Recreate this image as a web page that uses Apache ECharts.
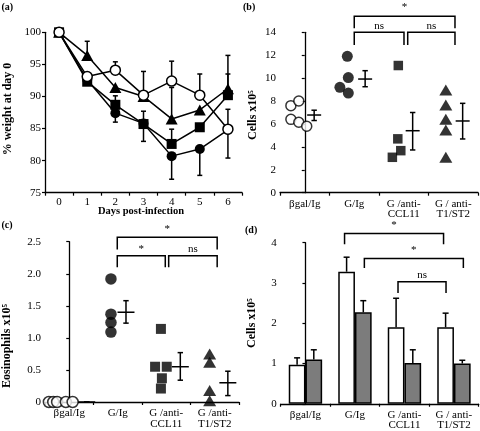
<!DOCTYPE html>
<html><head><meta charset="utf-8">
<script src="https://cdn.jsdelivr.net/npm/echarts@6/dist/echarts.min.js"></script>
<style>html,body{margin:0;padding:0;background:#fff}#c{width:480px;height:431px}</style>
</head><body><div id="c"></div>
<script>
// ---------- Panel (a): % weight at day 0 ----------
const aDays = ['0','1','2','3','4','5','6'];
const aYTicks = [75, 100, 5];
const aOpen   = [100, 93.1, 94.1, 90.2, 92.4, 90.2, 84.9];
const aTri    = [100, 96.4, 91.4, 90.0, 86.5, 87.9, 91.2];
const aSq     = [100, 92.3, 88.7, 85.7, 82.6, 85.2, 90.2];
const aFilled = [100, 92.6, 87.4, 85.8, 80.7, 81.8, 84.8];
// error bars [day, from, to]
const aOpenErr   = [[2, 94.1, 95.4], [4, 92.4, 95.5], [5, 90.2, 93.5], [6, 84.9, 88.0]];
const aTriErr    = [[1, 96.4, 98.6], [3, 90.0, 93.9], [4, 86.5, 91.4], [6, 91.2, 96.4]];
const aSqErr     = [[2, 88.7, 90.1], [3, 85.7, 87.7], [4, 82.6, 84.9], [6, 90.2, 93.5]];
const aFilledErr = [[2, 87.4, 86.0], [3, 85.8, 83.0], [4, 80.7, 77.1], [5, 81.8, 77.7], [6, 84.8, 80.4]];

// ---------- Panel (b): Cells x10^5 ----------
const groups  = ['βgal/Ig', 'G/Ig', 'G /anti-\nCCL11', 'G / anti-\nT1/ST2'];
const groupsC = ['βgal/Ig', 'G/Ig', 'G /anti-\nCCL11', 'G /anti-\nT1/ST2'];
const bBgal = [7.6, 8.0, 6.4, 6.15, 5.8];
const bBgalJit = [-0.28, -0.12, -0.28, -0.12, 0.04];
const bGIg = [11.9, 10.05, 9.2, 8.7];
const bGIgJit = [-0.14, -0.12, -0.29, -0.12];
const bCCL = [11.1, 4.7, 3.67, 3.09];
const bCCLJit = [-0.11, -0.12, -0.06, -0.23];
const bT1 = [8.96, 7.65, 6.4, 5.47, 3.09];
const bT1Jit = [-0.15, -0.15, -0.15, -0.15, -0.15];
const bMean = [6.78, 9.92, 5.41, 6.26];
const bLo   = [6.3, 9.25, 3.73, 4.69];
const bHi   = [7.2, 10.65, 7.0, 7.8];
const bMeanPos = [0.19, 0.22, 0.18, 0.19];
// brackets [x1, x2, top, legEnd, textY]
const bBrackets = [[1.0, 3.035, 15.4, 14.35, 16.2], [1.0, 2.005, 14.0, 12.9, 14.55], [2.08, 3.035, 14.0, 12.9, 14.55]];
const bBracketText = ['*', 'ns', 'ns'];

// ---------- Panel (c): Eosinophils x10^5 ----------
const cBgal = [0, 0, 0, 0, 0];
const cBgalJit = [-0.42, -0.33, -0.25, -0.07, 0.07];
const cGIg = [1.92, 1.37, 1.24, 1.09];
const cGIgJit = [-0.14, -0.14, -0.14, -0.14];
const cCCL = [1.14, 0.55, 0.55, 0.37, 0.21];
const cCCLJit = [-0.11, -0.23, 0.01, -0.09, -0.11];
const cT1 = [0.75, 0.62, 0.18, 0.02];
const cT1Jit = [-0.105, -0.105, -0.105, -0.105];
const cMean = [0, 1.40, 0.55, 0.30];
const cLo   = [0, 1.23, 0.34, 0.10];
const cHi   = [0, 1.58, 0.77, 0.48];
const cMeanPos = [0.36, 0.17, 0.29, 0.27];
const cBrackets = [[0.99, 3.05, 2.57, 2.38, 2.69], [0.99, 1.98, 2.28, 2.10, 2.38], [2.05, 3.05, 2.28, 2.10, 2.38]];
const cBracketText = ['*', '*', 'ns'];

// ---------- Panel (d): Cells x10^5 bars ----------
const dWhite = [0.97, 3.28, 1.90, 1.90];
const dGray  = [1.10, 2.27, 1.01, 1.00];
const dWhiteErr = [1.14, 3.64, 2.62, 2.25];
const dGrayErr  = [1.34, 2.56, 1.34, 1.08];
const dBrackets = [[0.79, 2.79, 4.23, 3.96, 4.44], [1.19, 3.19, 3.61, 3.37, 3.82], [1.87, 2.84, 3.03, 2.75, 3.2]];
const dBracketText = ['*', '*', 'ns'];

// ---------- styling ----------
const FONT = '"Liberation Serif", "Times New Roman", serif';
const BLACK = '#000';
const LW = 1.5;
const BAR_W = 16.7;

function yAx(grid, min, max, interval, fmt) {
  return {
    type: 'value', gridIndex: grid, min: min, max: max, interval: interval,
    axisLine: {show: true, lineStyle: {color: BLACK, width: 1.3}},
    axisTick: {show: true, length: 3, lineStyle: {color: BLACK, width: 1.2}},
    splitLine: {show: false},
    axisLabel: {color: BLACK, fontFamily: FONT, fontSize: 11, margin: 4, formatter: fmt}
  };
}
function catAx(grid, data, margin) {
  return {
    type: 'category', gridIndex: grid, data: data, boundaryGap: true,
    axisLine: {show: true, lineStyle: {color: BLACK, width: 1.3}},
    axisTick: {show: true, length: 3, alignWithLabel: false, lineStyle: {color: BLACK, width: 1.2}},
    axisLabel: {color: BLACK, fontFamily: FONT, fontSize: 11, lineHeight: 10.5, margin: margin, interval: 0}
  };
}
function valHidden(grid) {
  return {type: 'value', gridIndex: grid, min: -0.5, max: 3.5, show: false};
}

function errItemA(params, api) {
  const p1 = api.coord([api.value(0), api.value(1)]);
  const p2 = api.coord([api.value(0), api.value(2)]);
  const st = {stroke: BLACK, lineWidth: LW, fill: null};
  return {type: 'group', children: [
    {type: 'line', shape: {x1: p1[0], y1: p1[1], x2: p2[0], y2: p2[1]}, style: st},
    {type: 'line', shape: {x1: p2[0] - 2.5, y1: p2[1], x2: p2[0] + 2.5, y2: p2[1]}, style: st}
  ]};
}
function meanErrItem(halfW) {
  return function (params, api) {
    const x = api.value(0);
    const pm = api.coord([x, api.value(1)]);
    const pl = api.coord([x, api.value(2)]);
    const ph = api.coord([x, api.value(3)]);
    const st = {stroke: BLACK, lineWidth: LW, fill: null};
    return {type: 'group', children: [
      {type: 'line', shape: {x1: pm[0] - halfW, y1: pm[1], x2: pm[0] + halfW, y2: pm[1]}, style: st},
      {type: 'line', shape: {x1: pl[0], y1: pl[1], x2: ph[0], y2: ph[1]}, style: st},
      {type: 'line', shape: {x1: pl[0] - 2.7, y1: pl[1], x2: pl[0] + 2.7, y2: pl[1]}, style: st},
      {type: 'line', shape: {x1: ph[0] - 2.7, y1: ph[1], x2: ph[0] + 2.7, y2: ph[1]}, style: st}
    ]};
  };
}
function bracketItem(labels) {
  return function (params, api) {
    const x1 = api.value(0), x2 = api.value(1), yt = api.value(2), yl = api.value(3), ytx = api.value(4);
    const a = api.coord([x1, yl]), b = api.coord([x1, yt]), c = api.coord([x2, yt]), d = api.coord([x2, yl]);
    const t = api.coord([(x1 + x2) / 2, ytx]);
    return {type: 'group', children: [
      {type: 'polyline', shape: {points: [a, b, c, d]}, style: {stroke: BLACK, lineWidth: LW, fill: null}},
      {type: 'text', x: t[0], y: t[1], style: {text: labels[params.dataIndex], font: '11px ' + FONT, fill: BLACK, align: 'center', verticalAlign: 'middle'}}
    ]};
  };
}
function barErrItem(side) {
  return function (params, api) {
    const p1 = api.coord([api.value(0), api.value(1)]);
    const p2 = api.coord([api.value(0), api.value(2)]);
    const x = p1[0] + side * BAR_W / 2;
    const st = {stroke: BLACK, lineWidth: LW, fill: null};
    return {type: 'group', children: [
      {type: 'line', shape: {x1: x, y1: p1[1], x2: x, y2: p2[1]}, style: st},
      {type: 'line', shape: {x1: x - 3, y1: p2[1], x2: x + 3, y2: p2[1]}, style: st}
    ]};
  };
}
function pts(vals, jit, g) { return vals.map((v, i) => [g + jit[i], v]); }
function meanData(mean, lo, hi, pos) { return mean.map((m, i) => [i + pos[i], m, lo[i], hi[i]]); }

const openSym = {color: '#fff', borderColor: BLACK, borderWidth: LW};
const fillSym = {color: BLACK, borderColor: BLACK, borderWidth: 0};

function lineSeries(data, symbol, size, style) {
  return {type: 'line', xAxisIndex: 0, yAxisIndex: 0, data: data, symbol: symbol, symbolSize: size,
    showAllSymbol: true, lineStyle: {color: BLACK, width: LW}, itemStyle: style, z: 3};
}
function errSeriesA(data) {
  return {type: 'custom', xAxisIndex: 0, yAxisIndex: 0, data: data, renderItem: errItemA, z: 2,
    encode: {x: 0, y: [1, 2]}};
}
function scat(data, xi, yi, symbol, size, style) {
  return {type: 'scatter', xAxisIndex: xi, yAxisIndex: yi, data: data, symbol: symbol, symbolSize: size, itemStyle: style, z: 3};
}

const chart = echarts.init(document.getElementById('c'), null, {renderer: 'canvas'});
const option = {
  animation: false,
  backgroundColor: '#fff',
  textStyle: {fontFamily: FONT},
  grid: [
    {left: 45, top: 32.3, width: 197, height: 160.4},
    {left: 280, top: 32.3, width: 198, height: 160.4},
    {left: 45, top: 241.7, width: 194, height: 160.3},
    {left: 280.7, top: 242.7, width: 198, height: 161.6}
  ],
  xAxis: [
    catAx(0, aDays, 4),
    catAx(1, groups, 6), valHidden(1),
    catAx(2, groupsC, 6), valHidden(2),
    catAx(3, groups, 6), valHidden(3)
  ],
  yAxis: [
    yAx(0, aYTicks[0], aYTicks[1], aYTicks[2]),
    yAx(1, 0, 14, 2),
    yAx(2, 0, 2.5, 0.5, v => v === 0 ? '0' : v.toFixed(1)),
    yAx(3, 0, 4, 1)
  ],
  series: [
    // panel a
    errSeriesA(aOpenErr), errSeriesA(aTriErr), errSeriesA(aSqErr), errSeriesA(aFilledErr),
    lineSeries(aFilled, 'circle', 10, fillSym),
    lineSeries(aSq, 'rect', 10, fillSym),
    lineSeries(aTri, 'triangle', [12, 11], fillSym),
    lineSeries(aOpen, 'circle', 10, openSym),
    // panel b
    scat(pts(bBgal, bBgalJit, 0), 2, 1, 'circle', 10, openSym),
    scat(pts(bGIg, bGIgJit, 1), 2, 1, 'circle', 11, fillSym),
    scat(pts(bCCL, bCCLJit, 2), 2, 1, 'rect', 9.5, fillSym),
    scat(pts(bT1, bT1Jit, 3), 2, 1, 'triangle', [13, 11], fillSym),
    {type: 'custom', xAxisIndex: 2, yAxisIndex: 1, data: meanData(bMean, bLo, bHi, bMeanPos),
      renderItem: meanErrItem(7), encode: {x: 0, y: [1, 2, 3]}, z: 2},
    {type: 'custom', xAxisIndex: 2, yAxisIndex: 1, data: bBrackets, clip: false,
      renderItem: bracketItem(bBracketText), encode: {x: [0, 1], y: [2, 3, 4]}, z: 2},
    // panel c
    {type: 'custom', xAxisIndex: 4, yAxisIndex: 2, data: meanData(cMean, cLo, cHi, cMeanPos),
      renderItem: meanErrItem(8.5), encode: {x: 0, y: [1, 2, 3]}, z: 2},
    scat(pts(cBgal, cBgalJit, 0), 4, 2, 'circle', 11, openSym),
    scat(pts(cGIg, cGIgJit, 1), 4, 2, 'circle', 11.5, fillSym),
    scat(pts(cCCL, cCCLJit, 2), 4, 2, 'rect', 10, fillSym),
    scat(pts(cT1, cT1Jit, 3), 4, 2, 'triangle', [13, 11], fillSym),
    {type: 'custom', xAxisIndex: 4, yAxisIndex: 2, data: cBrackets, clip: false,
      renderItem: bracketItem(cBracketText), encode: {x: [0, 1], y: [2, 3, 4]}, z: 2},
    // panel d
    {type: 'bar', xAxisIndex: 5, yAxisIndex: 3, data: dWhite, barWidth: BAR_W, barGap: '0%',
      itemStyle: {color: '#fff', borderColor: BLACK, borderWidth: LW}, z: 3},
    {type: 'bar', xAxisIndex: 5, yAxisIndex: 3, data: dGray, barWidth: BAR_W, barGap: '0%',
      itemStyle: {color: '#7c7c7c', borderColor: BLACK, borderWidth: LW}, z: 3},
    {type: 'custom', xAxisIndex: 5, yAxisIndex: 3, data: dWhite.map((v, i) => [i, v, dWhiteErr[i]]),
      renderItem: barErrItem(-1), encode: {x: 0, y: [1, 2]}, z: 2},
    {type: 'custom', xAxisIndex: 5, yAxisIndex: 3, data: dGray.map((v, i) => [i, v, dGrayErr[i]]),
      renderItem: barErrItem(1), encode: {x: 0, y: [1, 2]}, z: 2},
    {type: 'custom', xAxisIndex: 6, yAxisIndex: 3, data: dBrackets, clip: false,
      renderItem: bracketItem(dBracketText), encode: {x: [0, 1], y: [2, 3, 4]}, z: 2}
  ],
  graphic: [
    {type: 'text', x: 1.5, y: 7, style: {text: '(a)', font: 'bold 10px ' + FONT, fill: BLACK, align: 'left', verticalAlign: 'middle'}},
    {type: 'text', x: 243, y: 7, style: {text: '(b)', font: 'bold 10px ' + FONT, fill: BLACK, align: 'left', verticalAlign: 'middle'}},
    {type: 'text', x: 1.5, y: 225, style: {text: '(c)', font: 'bold 10px ' + FONT, fill: BLACK, align: 'left', verticalAlign: 'middle'}},
    {type: 'text', x: 245, y: 230, style: {text: '(d)', font: 'bold 10px ' + FONT, fill: BLACK, align: 'left', verticalAlign: 'middle'}},
    {type: 'text', x: 141, y: 211, style: {text: 'Days post-infection', font: 'bold 10.5px ' + FONT, fill: BLACK, align: 'center', verticalAlign: 'middle'}},
    {type: 'text', x: 7.5, y: 109, rotation: Math.PI / 2, style: {text: '% weight at day 0', font: 'bold 12px ' + FONT, fill: BLACK, align: 'center', verticalAlign: 'middle'}},
    {type: 'text', x: 253, y: 115, rotation: Math.PI / 2, style: {text: 'Cells x10⁵', font: 'bold 12px ' + FONT, fill: BLACK, align: 'center', verticalAlign: 'middle'}},
    {type: 'text', x: 6.5, y: 346, rotation: Math.PI / 2, style: {text: 'Eosinophils x10⁵', font: 'bold 12px ' + FONT, fill: BLACK, align: 'center', verticalAlign: 'middle'}},
    {type: 'text', x: 252, y: 323, rotation: Math.PI / 2, style: {text: 'Cells x10⁵', font: 'bold 12px ' + FONT, fill: BLACK, align: 'center', verticalAlign: 'middle'}}
  ]
};
chart.setOption(option);
</script>
</body></html>
